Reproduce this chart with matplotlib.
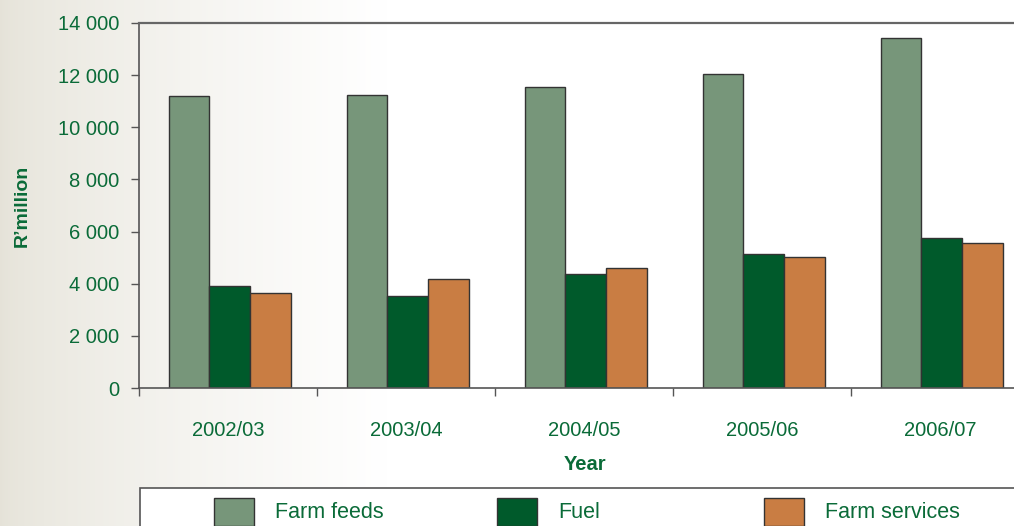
import numpy as np
import matplotlib
matplotlib.use("Agg")
import matplotlib.pyplot as plt
from matplotlib.patches import Rectangle

# data
years = ["2002/03", "2003/04", "2004/05", "2005/06", "2006/07"]
farm_feeds = [11200, 11240, 11545, 12045, 13425]
fuel = [3910, 3530, 4370, 5140, 5750]
farm_services = [3645, 4180, 4600, 5025, 5560]
series_names = ["Farm feeds", "Fuel", "Farm services"]
yticks = [0, 2000, 4000, 6000, 8000, 10000, 12000, 14000]

colours = ["#77967A", "#005A2B", "#C97D43"]
text_col = "#0A6B38"
edge_col = "#333333"

plt.rcParams["font.family"] = ["Liberation Sans", "DejaVu Sans"]

fig = plt.figure(figsize=(10.14, 5.26), dpi=100)
fig.patch.set_facecolor("white")

# pale photo-like background fading to white
bg = fig.add_axes([0, 0, 1, 1], zorder=-10)
grad = np.linspace(0, 1, 400)
fade = np.clip(grad / 0.38, 0, 1) ** 0.7
c0 = np.array([0.90, 0.89, 0.85])
img = c0[None, :] * (1 - fade[:, None]) + np.ones(3)[None, :] * fade[:, None]
bg.imshow(img[None, :, :], aspect="auto", extent=[0, 1, 0, 1])
bg.set_xlim(0, 1)
bg.set_ylim(0, 1)
bg.axis("off")

ax = fig.add_axes([139 / 1014, 1 - 388 / 526, 890 / 1014, 365 / 526])
ax.set_facecolor("none")

x = np.arange(len(years))
w = 0.228
for i, (vals, name) in enumerate(zip([farm_feeds, fuel, farm_services], series_names)):
    ax.bar(x + (i - 1) * w + 0.01, vals, w, color=colours[i], edgecolor=edge_col,
           linewidth=1.0, label=name)

ax.set_xlim(-0.5, len(years) - 0.5)
ax.set_ylim(0, 14000)
ax.set_yticks(yticks)
ax.set_yticklabels([f"{v:,}".replace(",", " ") for v in yticks])
ax.set_xticks(x)
ax.set_xticklabels(years)
ax.set_xticks(np.arange(len(years) + 1) - 0.5, minor=True)
ax.tick_params(axis="x", which="major", length=0, pad=24, labelsize=14.5,
               labelcolor=text_col)
ax.tick_params(axis="x", which="minor", length=6, width=1, color="#555555")
ax.tick_params(axis="y", length=6, width=1, color="#555555", labelsize=14.5,
               labelcolor=text_col, pad=8)

for s in ["left", "bottom", "top"]:
    ax.spines[s].set_color("#555555")
    ax.spines[s].set_linewidth(1.2)
ax.spines["top"].set_linewidth(1.6)
ax.spines["top"].set_color("#666666")
ax.spines["right"].set_visible(False)

ax.set_ylabel("R\u2019million", fontsize=14, fontweight="bold", color=text_col,
              labelpad=0)
ax.yaxis.set_label_coords(-0.122, 0.5)
fig.text(585 / 1014, 1 - 464 / 526, "Year", fontsize=14.5, fontweight="bold",
         color=text_col, ha="center", va="center")

# legend box, cut by the figure edge like the original
fig.patches.append(Rectangle((140 / 1014, -0.05), 0.9, 1 - 488 / 526 + 0.05,
                             transform=fig.transFigure, facecolor="white",
                             edgecolor="#555555", linewidth=1.2))
leg_x = [214, 497, 764]
for i, name in enumerate(series_names):
    fig.patches.append(Rectangle((leg_x[i] / 1014, 0.0), 40 / 1014, 28 / 526,
                                 transform=fig.transFigure, facecolor=colours[i],
                                 edgecolor=edge_col, linewidth=1.0))
    fig.text((leg_x[i] + 61) / 1014, 1 - 512 / 526, name, fontsize=15.5,
             color=text_col, ha="left", va="center")

fig.savefig("out.png", dpi=100)
